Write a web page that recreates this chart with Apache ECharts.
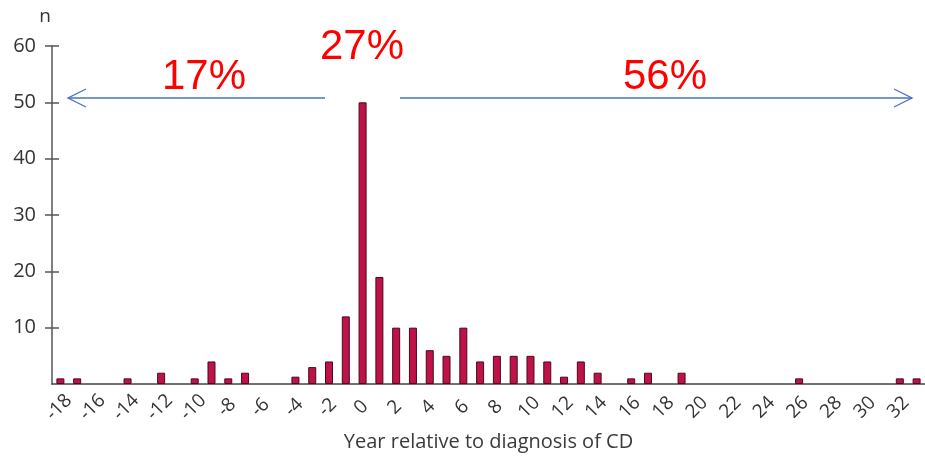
<!DOCTYPE html>
<html>
<head>
<meta charset="utf-8">
<script src="https://cdn.jsdelivr.net/npm/echarts@6/dist/echarts.min.js"></script>
<style>
  html, body { margin: 0; padding: 0; background: #fff; }
  #chart { width: 925px; height: 458px; }
</style>
</head>
<body>
<div id="chart"></div>
<script>
// years relative to diagnosis, -18 .. 33
var years = []
for (var y = -18; y <= 33; y++) years.push(String(y))

// number of patients per year
var counts = [
  1, 1, 0, 0, 1, 0, 2, 0, 1, 4, 1, 2, 0, 0, 1.3, 3, 4, 12, // -18 .. -1
  50, 19, 10, 10, 6, 5, 10, 4, 5, 5, 5, 4, 1.3, 4, 2, 0,    // 0 .. 15
  1, 2, 0, 2, 0, 0, 0, 0, 0, 0, 1, 0, 0, 0, 0, 0, 1, 1      // 16 .. 33
]
var yTicks = [10, 20, 30, 40, 50, 60]
var shares = ['17%', '27%', '56%']

var blue = '#4472c4'
var font = 'Open Sans'
var option = {
  animation: false,
  grid: { left: 52, right: 0, top: 46, bottom: 74, outerBoundsMode: 'none' },
  xAxis: {
    type: 'category',
    data: years,
    name: 'Year relative to diagnosis of CD',
    nameLocation: 'middle',
    nameGap: 48,
    nameMoveOverlap: false,
    nameTextStyle: { color: '#3a3a3a', fontSize: 20, fontFamily: font, verticalAlign: 'top' },
    axisLine: { lineStyle: { color: '#444', width: 1.5 } },
    axisTick: { show: false },
    axisLabel: {
      interval: 1,
      rotate: 45,
      margin: 22,
      align: 'center',
      verticalAlign: 'middle',
      padding: [0, 4, 10, 0], // nudges the rotated labels a little left of the tick
      color: '#333',
      fontSize: 19,
      fontFamily: font
    }
  },
  yAxis: [
    {
      type: 'value',
      min: 0,
      max: 60,
      interval: 10,
      name: 'n',
      nameGap: 20,
      nameTextStyle: { color: '#333', fontSize: 19, fontFamily: font, align: 'right', padding: [0, 1, 0, 0] },
      axisLine: { show: true, lineStyle: { color: '#555', width: 1.5 } },
      axisTick: { show: true, length: 7, customValues: yTicks, lineStyle: { color: '#555', width: 1.5 } },
      axisLabel: { customValues: yTicks, margin: 16, color: '#333', fontSize: 20, fontFamily: font },
      splitLine: { show: false }
    },
    {
      // inner half of the crossing ticks
      type: 'value',
      position: 'left',
      min: 0,
      max: 60,
      interval: 10,
      axisLine: { show: false },
      axisTick: { show: true, inside: true, length: 7, customValues: yTicks, lineStyle: { color: '#555', width: 1.5 } },
      axisLabel: { show: false },
      splitLine: { show: false }
    }
  ],
  series: [
    {
      type: 'bar',
      // empty years get no bar at all
      data: counts.map(function (v) { return v === 0 ? '-' : v }),
      barWidth: 8,
      itemStyle: { color: '#be1248', borderColor: '#4a0a1c', borderWidth: 1 }
    }
  ],
  graphic: [
    { type: 'line', shape: { x1: 68, y1: 98, x2: 325, y2: 98 }, style: { stroke: blue, lineWidth: 1.3 } },
    { type: 'polyline', shape: { points: [[86, 89], [68, 98], [86, 107]] }, style: { stroke: blue, lineWidth: 1.3, fill: null } },
    { type: 'line', shape: { x1: 400, y1: 98, x2: 912, y2: 98 }, style: { stroke: blue, lineWidth: 1.3 } },
    { type: 'polyline', shape: { points: [[894, 89], [912, 98], [894, 107]] }, style: { stroke: blue, lineWidth: 1.3, fill: null } },
    { type: 'text', x: 204, y: 77, style: { text: shares[0], fill: '#ff0000', font: '42px "Liberation Sans"', align: 'center', verticalAlign: 'middle' } },
    { type: 'text', x: 362, y: 47, style: { text: shares[1], fill: '#ff0000', font: '42px "Liberation Sans"', align: 'center', verticalAlign: 'middle' } },
    { type: 'text', x: 665, y: 77, style: { text: shares[2], fill: '#ff0000', font: '42px "Liberation Sans"', align: 'center', verticalAlign: 'middle' } }
  ]
}
var myChart = echarts.init(document.getElementById('chart'))
myChart.setOption(option)
</script>
</body>
</html>
